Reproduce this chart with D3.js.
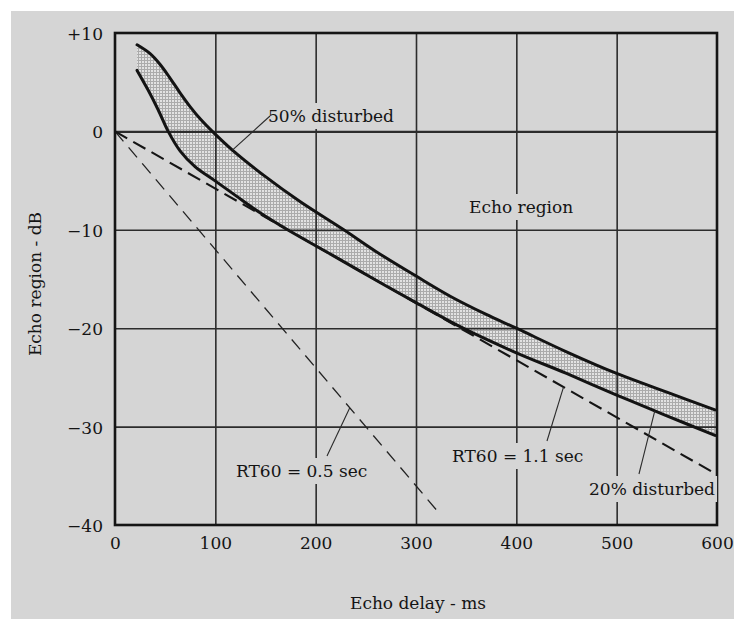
<!DOCTYPE html>
<html lang="en">
<head>
  <meta charset="utf-8" />
  <title>Echo region</title>
  <script src="https://cdnjs.cloudflare.com/ajax/libs/d3/7.8.5/d3.min.js"></script>
  <style>
    html, body { margin: 0; padding: 0; background: #fff; }
    svg { display: block; }
    text { font-family: 'DejaVu Serif', 'Liberation Serif', serif; fill: #141414; }
    .tick text { font-size: 17px; }
  </style>
</head>
<body>
<svg id="chart" width="734" height="619"></svg>

<script>
// ------------------- DATA -------------------
const xTicks = [0, 100, 200, 300, 400, 500, 600];
const yTicks = [10, 0, -10, -20, -30, -40];
const yTickLabels = ["+10", "0", "\u221210", "\u221220", "\u221230", "\u221240"];

// [echo delay ms, echo level dB]
const disturbed50 = [[22, 8.8], [35, 7.9], [45, 6.8], [55, 5.4], [65, 3.9], [75, 2.5], [86, 1.15],
  [97, 0], [117, -1.9], [150, -4.6], [184, -7.1], [228, -10.0], [260, -12.2], [300, -14.7],
  [335, -16.8], [370, -18.6], [400, -20.0], [450, -22.4], [500, -24.6], [550, -26.5], [598, -28.3]];
const disturbed20 = [[22, 6.2], [33, 4.2], [43, 2.2], [53, 0], [65, -2.0], [80, -3.6], [98, -4.9],
  [120, -6.5], [145, -8.3], [172, -10.0], [217, -12.6], [258, -15.0], [300, -17.4], [347, -20.0],
  [400, -22.5], [450, -24.6], [500, -26.8], [550, -28.9], [598, -30.9]];
const rt60short = [[0, 0], [324, -38.9]];   // RT60 = 0.5 sec
const rt60long = [[0, 0], [597, -34.7]];    // RT60 = 1.1 sec

// ------------------- CHART -------------------
const svg = d3.select("#chart");
const x = d3.scaleLinear().domain([0, 600]).range([115, 717]);
const y = d3.scaleLinear().domain([-40, 10]).range([525, 33]);

const at = (series, ms) => {
  const i = d3.bisector(d => d[0]).left(series, ms);
  if (i <= 0) return series[0][1];
  const a = series[i - 1], b = series[Math.min(i, series.length - 1)];
  return a[1] + (b[1] - a[1]) * (ms - a[0]) / ((b[0] - a[0]) || 1);
};

// page
svg.append("rect").attr("x", 11).attr("y", 11).attr("width", 723).attr("height", 608).attr("fill", "#d5d5d5");

// shaded band
const defs = svg.append("defs");
const pat = defs.append("pattern").attr("id", "stipple").attr("patternUnits", "userSpaceOnUse")
  .attr("width", 3).attr("height", 3);
pat.append("rect").attr("width", 3).attr("height", 3).attr("fill", "#e2e2e2");
pat.append("rect").attr("width", 3).attr("height", 1).attr("fill", "#ababab");
pat.append("rect").attr("width", 1).attr("height", 3).attr("fill", "#ababab");

const curve = d3.line().x(d => x(d[0])).y(d => y(d[1])).curve(d3.curveCatmullRom.alpha(0.5));

// sample the smooth curves so the band follows them exactly
const sample = (series) => {
  const path = svg.append("path").attr("d", curve(series));
  const node = path.node(), len = node.getTotalLength(), pts = [];
  for (let s = 0; s <= len; s += 2) { const p = node.getPointAtLength(s); pts.push([p.x, p.y]); }
  const e = node.getPointAtLength(len); pts.push([e.x, e.y]);
  path.remove();
  return pts;
};
const up = sample(disturbed50), lo = sample(disturbed20);
svg.append("path")
  .attr("d", "M" + up.map(p => p.join(",")).join("L") + "L" + lo.reverse().map(p => p.join(",")).join("L") + "Z")
  .attr("fill", "url(#stipple)");

// grid through axes
const gx = svg.append("g").attr("transform", "translate(0,525)")
  .call(d3.axisBottom(x).tickValues(xTicks).tickSize(-492).tickPadding(12).tickFormat(d3.format("d")));
const gy = svg.append("g").attr("transform", "translate(115,0)")
  .call(d3.axisLeft(y).tickValues(yTicks).tickSize(-602).tickPadding(12).tickFormat((d, i) => yTickLabels[i]));
[gx, gy].forEach(g => {
  g.select(".domain").remove();
  g.selectAll(".tick line").attr("stroke", "#2c2c2c").attr("stroke-width", 1.6);
  g.selectAll(".tick text").attr("fill", "#141414").style("font-family", "'DejaVu Serif', serif");
});
gy.selectAll(".tick text").attr("dy", "0.38em");
gx.selectAll(".tick line").filter(d => d === 0 || d === 600).remove();
gy.selectAll(".tick line").filter(d => d === 10 || d === -40).remove();
gy.selectAll(".tick line").filter(d => d === 0).attr("stroke-width", 2.2);

svg.append("rect").attr("x", 115).attr("y", 33).attr("width", 602).attr("height", 492)
  .attr("fill", "none").attr("stroke", "#151515").attr("stroke-width", 2.6);

// annotation labels with knock-out behind them (breaks the grid lines)
const labels = [
  {t: "50% disturbed", x: 268, y: 122},
  {t: "Echo region", x: 469, y: 213},
  {t: "RT60 = 1.1 sec", x: 452, y: 462},
  {t: "RT60 = 0.5 sec", x: 236, y: 477},
  {t: "20% disturbed", x: 589, y: 495}
];
const knock = svg.append("g");

// curves
[disturbed50, disturbed20].forEach(s => {
  svg.append("path").datum(s).attr("d", curve).attr("fill", "none")
    .attr("stroke", "#131313").attr("stroke-width", 3).attr("stroke-linecap", "round");
});
const straight = d3.line().x(d => x(d[0])).y(d => y(d[1]));
svg.append("path").datum(rt60short).attr("d", straight).attr("fill", "none")
  .attr("stroke", "#222").attr("stroke-width", 1.3).attr("stroke-dasharray", "13 8");
svg.append("path").datum(rt60long).attr("d", straight).attr("fill", "none")
  .attr("stroke", "#151515").attr("stroke-width", 2.1).attr("stroke-dasharray", "14 7");

// pointer lines
const pointers = [
  [[270, 116], [x(117), y(at(disturbed50, 117))]],
  [[547, 441], [x(447), y(at(rt60long, 447))]],
  [[327, 456], [x(234), y(at(rt60short, 234))]],
  [[639, 474], [x(538), y(at(disturbed20, 538))]]
];
pointers.forEach(p => {
  svg.append("line").attr("x1", p[0][0]).attr("y1", p[0][1]).attr("x2", p[1][0]).attr("y2", p[1][1])
    .attr("stroke", "#2a2a2a").attr("stroke-width", 1.1);
});

const lab = svg.append("g");
labels.forEach(l => {
  const t = lab.append("text").attr("x", l.x).attr("y", l.y).style("font-size", "17px").text(l.t);
  const b = t.node().getBBox();
  knock.append("rect").attr("x", b.x - 2).attr("y", b.y - 3).attr("width", b.width + 4).attr("height", b.height + 6)
    .attr("fill", "#d5d5d5");
});

// axis titles
svg.append("text").attr("x", 418).attr("y", 609).attr("text-anchor", "middle").style("font-size", "17px")
  .text("Echo delay - ms");
svg.append("text").attr("transform", "translate(41,284) rotate(-90)").attr("text-anchor", "middle")
  .style("font-size", "17px").text("Echo region - dB");
</script>
</body>
</html>
